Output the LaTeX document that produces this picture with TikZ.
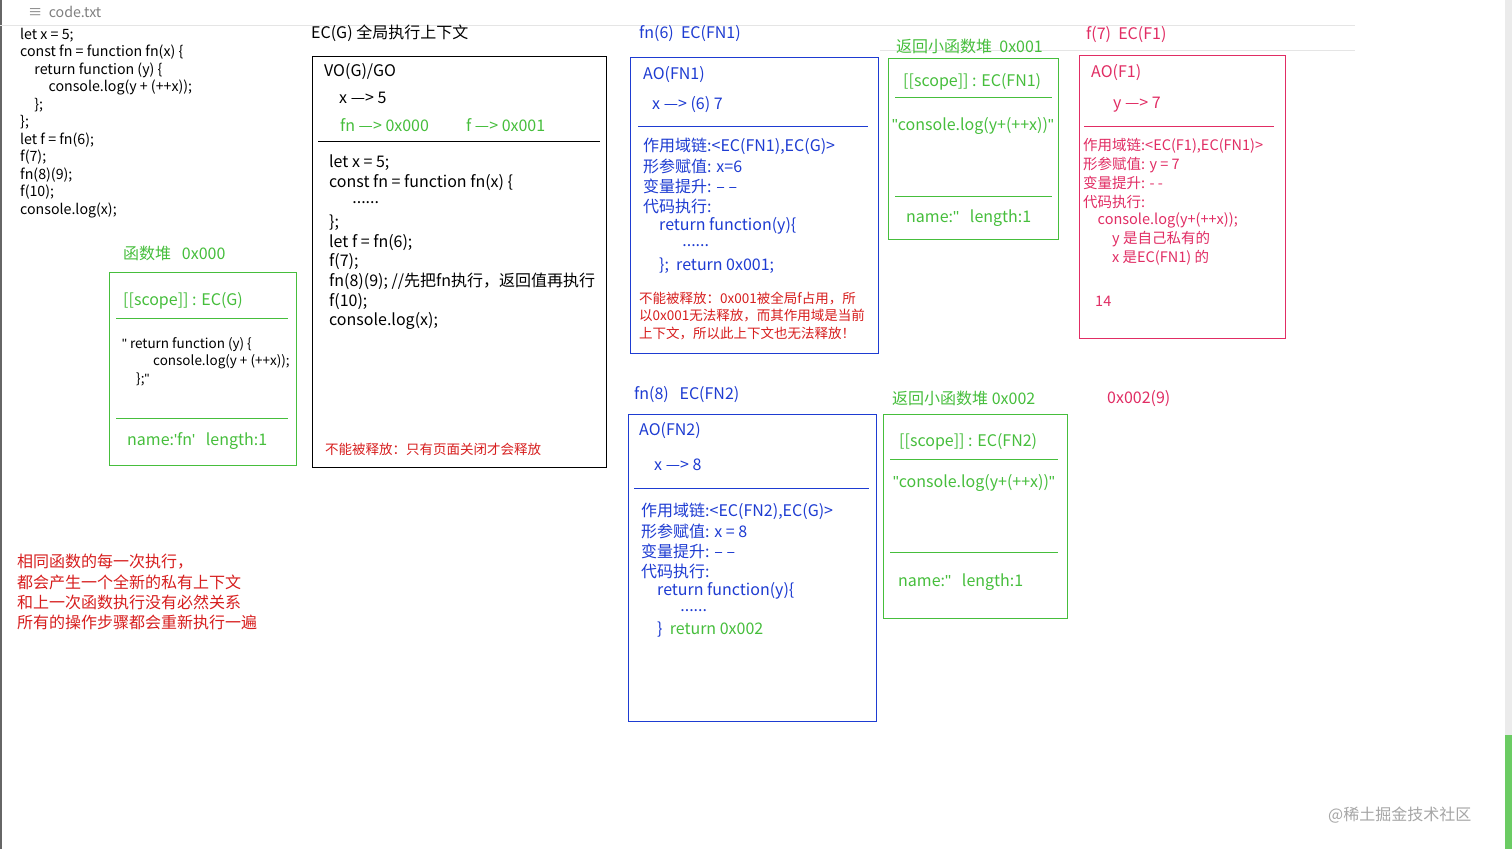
\documentclass[tikz,border=0pt]{standalone}
\usepackage{fontspec}
\setmainfont{Noto Sans CJK SC}
\newfontfamily\lat{Liberation Sans}
\newcommand\sixdots{......}
\newcommand\dq{{\lat\char"22}}
\newcommand\sq{{\lat\char"27}}
\begin{document}
\begin{tikzpicture}[x=1pt,y=-1pt,
 t/.style={anchor=west,inner sep=0pt,font=\fontsize{16}{18}\selectfont},
 sm/.style={anchor=west,inner sep=0pt,font=\fontsize{14.2}{16}\selectfont},
 tiny/.style={anchor=west,inner sep=0pt,font=\fontsize{13.5}{15}\selectfont},
 pks/.style={anchor=west,inner sep=0pt,font=\fontsize{14.5}{16}\selectfont},
 bx/.style={draw,line width=1pt}]
\definecolor{gr}{RGB}{70,190,60}
\definecolor{bl}{RGB}{30,60,210}
\definecolor{rd}{RGB}{215,30,30}
\definecolor{pk}{RGB}{225,45,100}
\fill[white] (0,0) rectangle (1512,849);
\useasboundingbox (0,0) rectangle (1512,849);
\draw[black!60,line width=1.5pt] (1,0) -- (1,849);
\draw[black!10] (0,25) -- (1355,25);
\draw[black!10] (880,50) -- (1355,50);
\fill[black!8] (1505,0) rectangle (1512,849);
\fill[gr!80] (1505,735) rectangle (1512,849);
\node[sm,text=black!50] (title) at (28,12) {≡\ \ code.txt};
% left code
\foreach \s [count=\i] in {let x = 5;,const fn = function fn(x) \{,\quad return function (y) \{,\qquad console.log(y + (++x));,\quad \};,\};,let f = fn(6);,f(7);,fn(8)(9);,f(10);,console.log(x);}
  \node[sm] (lc\i) at (20,{35+17.5*(\i-1)}) {\s};
% heap 0x000
\node[t,text=gr] (h0l) at (123,253) {函数堆\ \ \ 0x000};
\node[bx,draw=gr,minimum width=187,minimum height=193,anchor=north west] (h0) at (109,272) {};
\node[t,text=gr] (h0s) at (123,301) {[[scope]] : EC(G)};
\draw[gr] (116,318) -- (288,318);
\node[tiny] (h0a) at (122,345) {\dq\ return function (y) \{};
\node[tiny] (h0b) at (153,362) {console.log(y + (++x));};
\node[tiny] (h0c) at (136,379) {\};\dq};
\draw[gr] (116,418) -- (288,418);
\node[t,text=gr] (h0n) at (127,441) {name:\sq fn\sq\ \ \ length:1};
% EC(G)
\node[t] (ecgl) at (311,33) {EC(G) 全局执行上下文};
\node[bx,minimum width=294,minimum height=411,anchor=north west] (ecg) at (312,56) {};
\node[t] (vo) at (324,72) {VO(G)/GO};
\node[t] (vx) at (339,98) {x —> 5};
\node[t,text=gr] (vfn) at (340,125) {fn —> 0x000};
\node[t,text=gr] (vf) at (466,125) {f —> 0x001};
\draw (318,141) -- (600,141);
\foreach \s [count=\i] in {let x = 5;,const fn = function fn(x) \{,\quad\ \ \sixdots,\};,let f = fn(6);,f(7);,fn(8)(9); //先把fn执行，返回值再执行,f(10);,console.log(x);}
  \node[t] (gc\i) at (329,{163+19.8*(\i-1)}) {\s};
\node[tiny,text=rd] (gr1) at (325,449) {不能被释放：只有页面关闭才会释放};
% FN1
\node[t,text=bl] (f1l) at (639,34) {fn(6)\ \ EC(FN1)};
\node[bx,draw=bl,minimum width=248,minimum height=296,anchor=north west] (f1) at (630,57) {};
\node[t,text=bl] (f1a) at (643,75) {AO(FN1)};
\node[t,text=bl] (f1x) at (652,105) {x —> (6) 7};
\draw[bl] (638,126) -- (868,126);
\foreach \s [count=\i] in {{作用域链:<EC(FN1),EC(G)>},形参赋值: x=6,变量提升: – –,代码执行:,\quad return function(y)\{,\qquad\ \ \sixdots,\quad \};\ \ return 0x001;}
  \node[t,text=bl] (f1c\i) at (643,{146+20*(\i-1)}) {\s};
\foreach \s [count=\i] in {{不能被释放：0x001被全局f占用，所},{以0x001无法释放，而其作用域是当前},{上下文，所以此上下文也无法释放！}}
  \node[tiny,text=rd] (f1r\i) at (639,{298+17.5*(\i-1)}) {\s};
% heap 0x001
\node[t,text=gr] (h1l) at (896,46) {返回小函数堆\ \ 0x001};
\node[bx,draw=gr,minimum width=170,minimum height=181,anchor=north west] (h1) at (888,58) {};
\node[t,text=gr] (h1s) at (903,82) {[[scope]] : EC(FN1)};
\draw[gr] (895,97) -- (1052,97);
\node[t,text=gr] (h1c) at (892,126) {\dq console.log(y+(++x))\dq};
\draw[gr] (895,196) -- (1052,196);
\node[t,text=gr] (h1n) at (906,218) {name:\sq\sq\ \ \ length:1};
% F1
\node[t,text=pk] (fl) at (1086,35) {f(7)\ \ EC(F1)};
\node[bx,draw=pk,minimum width=206,minimum height=283,anchor=north west] (ff) at (1079,55) {};
\node[t,text=pk] (fa) at (1091,73) {AO(F1)};
\node[t,text=pk] (fy) at (1113,105) {y —> 7};
\draw[pk] (1084,126) -- (1274,126);
\foreach \s [count=\i] in {{作用域链:<EC(F1),EC(FN1)>},形参赋值: y = 7,变量提升: - -,代码执行:,\quad console.log(y+(++x));,\qquad y 是自己私有的,\qquad x 是EC(FN1) 的}
  \node[pks,text=pk] (fc\i) at (1083,{146+18.6*(\i-1)}) {\s};
\node[pks,text=pk] (f14) at (1095,301) {14};
% FN2
\node[t,text=bl] (f2l) at (634,395) {fn(8)\ \ \ EC(FN2)};
\node[bx,draw=bl,minimum width=248,minimum height=307,anchor=north west] (f2) at (628,414) {};
\node[t,text=bl] (f2a) at (639,431) {AO(FN2)};
\node[t,text=bl] (f2x) at (654,465) {x —> 8};
\draw[bl] (634,488) -- (869,488);
\foreach \s [count=\i] in {{作用域链:<EC(FN2),EC(G)>},形参赋值: x = 8,变量提升: – –,代码执行:,\quad return function(y)\{,\qquad\ \ \sixdots}
  \node[t,text=bl] (f2c\i) at (641,{511+20*(\i-1)}) {\s};
\node[t,text=bl] (f2c7) at (657,630) {\}\ \ \textcolor{gr}{return 0x002}};
% heap 0x002
\node[t,text=gr] (h2l) at (892,398) {返回小函数堆 0x002};
\node[bx,draw=gr,minimum width=184,minimum height=204,anchor=north west] (h2) at (883,414) {};
\node[t,text=gr] (h2s) at (899,442) {[[scope]] : EC(FN2)};
\draw[gr] (890,459) -- (1058,459);
\node[t,text=gr] (h2c) at (893,483) {\dq console.log(y+(++x))\dq};
\draw[gr] (890,552) -- (1058,552);
\node[t,text=gr] (h2n) at (898,582) {name:\sq\sq\ \ \ length:1};
\node[t,text=pk] (x9) at (1107,399) {0x002(9)};
% notes
\foreach \s [count=\i] in {相同函数的每一次执行，,都会产生一个全新的私有上下文,和上一次函数执行没有必然关系,所有的操作步骤都会重新执行一遍}
  \node[t,text=rd] (n\i) at (17,{562+20*(\i-1)}) {\s};
\node[t,text=black!35] (wm) at (1328,815) {@稀土掘金技术社区};
\end{tikzpicture}
\end{document}
